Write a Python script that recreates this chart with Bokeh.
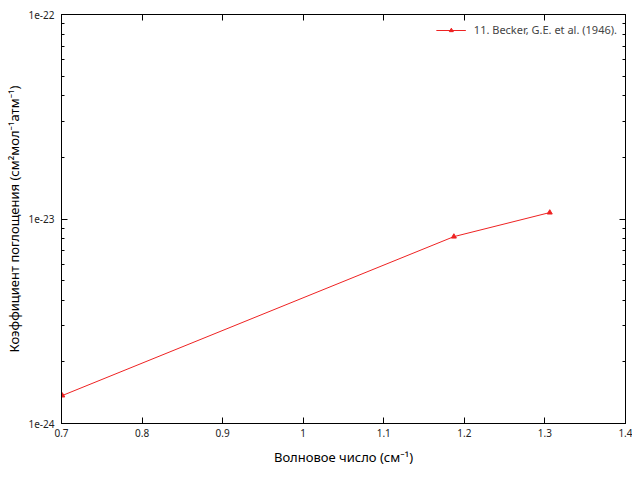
from bokeh.plotting import figure
from bokeh.models import (LinearAxis, LogAxis, FixedTicker, CustomJSTickFormatter,
                          Range1d, Legend, LegendItem)
from bokeh.embed import file_html
from bokeh.resources import INLINE

# Data
wavenumber = [0.701, 1.187, 1.306]
absorption = [1.37e-24, 8.2e-24, 1.075e-23]
series_name = "11. Becker, G.E. et al. (1946)."
x_ticks = [0.7, 0.8, 0.9, 1.0, 1.1, 1.2, 1.3, 1.4]
y_ticks = [1e-24, 1e-23, 1e-22]
y_minor = [m * 10.0 ** e for e in (-24, -23) for m in range(2, 10)]

FONT = "Noto Sans"
RED = "#ee2222"

p = figure(width=632, height=472, output_backend="svg", toolbar_location=None,
           y_axis_type="log",
           x_range=Range1d(0.7, 1.4), y_range=Range1d(1e-24, 1e-22),
           min_border_left=61, min_border_right=7, min_border_top=14, min_border_bottom=49)
p.background_fill_color = "white"
p.border_fill_color = "white"
p.outline_line_color = "black"
p.outline_line_width = 1
p.xgrid.visible = False
p.ygrid.visible = False

r = p.line(wavenumber, absorption, line_color=RED, line_width=1)
m = p.scatter(wavenumber, absorption, marker="triangle", size=5, color=RED)

xfmt = CustomJSTickFormatter(code="return parseFloat(tick.toFixed(2)).toString();")
yfmt = CustomJSTickFormatter(code="return tick.toExponential(0).replace('+','');")

def style(ax, labels=True):
    ax.major_tick_in = 6
    ax.major_tick_out = 0
    ax.minor_tick_in = 3
    ax.minor_tick_out = 0
    ax.axis_line_color = "black"
    ax.major_tick_line_color = "black"
    ax.minor_tick_line_color = "black"
    ax.major_label_text_font = FONT
    ax.major_label_text_font_size = "10px"
    ax.major_label_text_color = "#222222"
    ax.axis_label_text_font = FONT
    ax.axis_label_text_font_size = "13px"
    ax.axis_label_text_font_style = "normal"
    ax.axis_label_text_color = "black"
    if not labels:
        ax.major_label_text_font_size = "0px"
        ax.major_label_text_alpha = 0
        ax.major_label_standoff = 0

xax = p.xaxis[0]
xax.ticker = FixedTicker(ticks=x_ticks)
xax.formatter = xfmt
style(xax)
xax.minor_tick_line_color = None
xax.axis_label = "Волновое число (см⁻¹)"
xax.axis_label_standoff = 8
xax.major_label_standoff = 5

yax = p.yaxis[0]
yax.ticker = FixedTicker(ticks=y_ticks, minor_ticks=y_minor)
yax.formatter = yfmt
style(yax)
yax.axis_label = "Коэффициент поглощения (см²мол⁻¹атм⁻¹)"
yax.axis_label_standoff = 2
yax.major_label_standoff = 7

top = LinearAxis(ticker=FixedTicker(ticks=x_ticks), formatter=xfmt)
style(top, labels=False)
top.minor_tick_line_color = None
p.add_layout(top, "above")

right = LogAxis(ticker=FixedTicker(ticks=y_ticks, minor_ticks=y_minor), formatter=yfmt)
style(right, labels=False)
p.add_layout(right, "right")

legend = Legend(items=[LegendItem(label=series_name, renderers=[r, m])],
                location="top_right", border_line_color=None,
                background_fill_alpha=0, label_text_font=FONT,
                label_text_font_size="11px", glyph_width=30, glyph_height=10,
                margin=8, padding=2, spacing=0, label_standoff=8)
p.add_layout(legend)

open("out.html", "w").write(file_html(p, INLINE))
